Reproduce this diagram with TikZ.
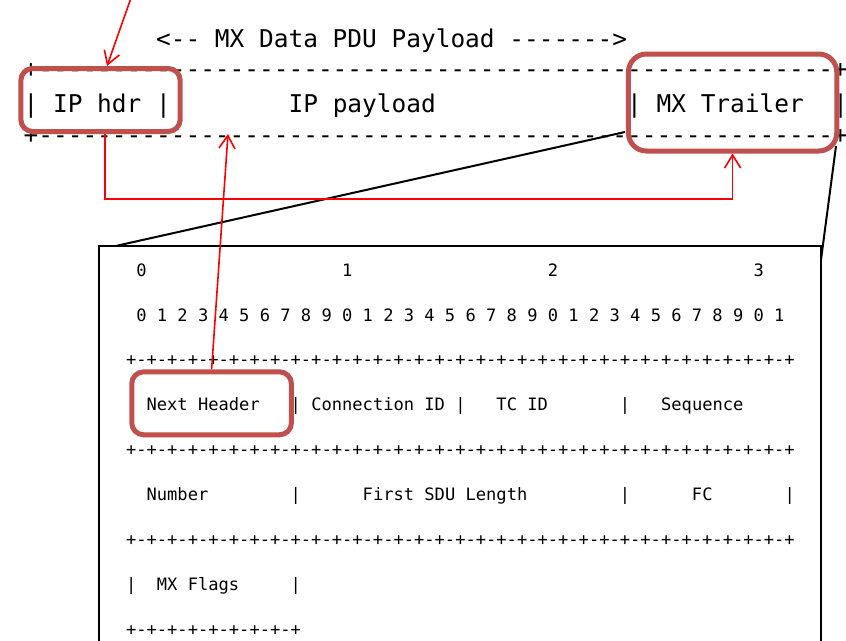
\documentclass[tikz,border=0pt]{standalone}
\usepackage{fontspec}
\setmonofont{DejaVu Sans Mono}
\usetikzlibrary{arrows.meta,calc}
\definecolor{boxred}{RGB}{192,80,77}
\begin{document}
\begin{tikzpicture}[x=1pt,y=-1pt,
  bigtxt/.style={font=\ttfamily\fontsize{24.45}{26}\selectfont, inner sep=0pt, outer sep=0pt, anchor=base west},
  smalltxt/.style={font=\ttfamily\fontsize{17.09}{18}\selectfont, inner sep=0pt, outer sep=0pt, anchor=base west},
  hlbox/.style={draw=boxred, line width=5pt, rounded corners=12pt, inner sep=0pt, outer sep=2.5pt},
  redarrow/.style={draw=red, line width=1.6pt, -{Straight Barb[length=13pt,width=16pt]}},
  zoomline/.style={draw=black, line width=2pt}]
\useasboundingbox (0,0) rectangle (846,640);
\fill[white] (0,0) rectangle (846,640);
\clip (0,0) rectangle (846,640);

% detail box and zoom lines
\node[draw, line width=2.2pt, minimum width=722pt, minimum height=440pt, anchor=north west, inner sep=0pt, outer sep=0pt] (detail) at (99,245.7) {};
\coordinate (zl) at (625,132);
\coordinate (zr) at (836,146);
\draw[zoomline] (zl) -- ([xshift=18pt]detail.north west);
\draw[zoomline] (zr) -- ([yshift=-14pt]detail.north east);

% top text
\node[bigtxt] (title) at (156.12,47) {<-- MX Data PDU Payload ------->};
\node[bigtxt] (topdash) at (23.64,77.7) {+\foreach \i in {1,...,54}{-}+};
\node[bigtxt] (bar1) at (23.64,112) {|};
\node[bigtxt] (iphdr) at (53.08,112) {IP hdr};
\node[bigtxt] (bar2) at (156.12,112) {|};
\node[bigtxt] (ippay) at (288.6,112) {IP payload};
\node[bigtxt] (bar3) at (627.16,112) {|};
\node[bigtxt] (mxtr) at (656.6,112) {MX Trailer};
\node[bigtxt] (bar4) at (833.24,112) {|};
\node[bigtxt] (botdash) at (23.64,143.7) {+\foreach \i in {1,...,54}{-}+};

% detail text
\node[smalltxt] (d0) at (136.34,276) {0};
\node[smalltxt] (d1) at (342.14,276) {1};
\node[smalltxt] (d2) at (547.94,276) {2};
\node[smalltxt] (d3) at (753.74,276) {3};
\node[smalltxt] (bits) at (136.34,321) {0 1 2 3 4 5 6 7 8 9 0 1 2 3 4 5 6 7 8 9 0 1 2 3 4 5 6 7 8 9 0 1};
\node[smalltxt] (sep1) at (126.05,365) {\foreach \i in {1,...,32}{+-}+};
\node[smalltxt] (nh) at (146.63,410) {Next Header};
\node[smalltxt] (b11) at (290.69,410) {|};
\node[smalltxt] (cid) at (311.27,410) {Connection ID};
\node[smalltxt] (b12) at (455.33,410) {|};
\node[smalltxt] (tcid) at (496.49,410) {TC ID};
\node[smalltxt] (b13) at (619.97,410) {|};
\node[smalltxt] (seq) at (661.13,410) {Sequence};
\node[smalltxt] (sep2) at (126.05,455) {\foreach \i in {1,...,32}{+-}+};
\node[smalltxt] (num) at (146.63,500) {Number};
\node[smalltxt] (b21) at (290.69,500) {|};
\node[smalltxt] (fsl) at (362.72,500) {First SDU Length};
\node[smalltxt] (b22) at (619.97,500) {|};
\node[smalltxt] (fc) at (691.99,500) {FC};
\node[smalltxt] (b23) at (784.61,500) {|};
\node[smalltxt] (sep3) at (126.05,545) {\foreach \i in {1,...,32}{+-}+};
\node[smalltxt] (b31) at (126.05,590) {|};
\node[smalltxt] (flags) at (156.92,590) {MX Flags};
\node[smalltxt] (b32) at (290.69,590) {|};
\node[smalltxt] (sep4) at (126.05,635) {\foreach \i in {1,...,8}{+-}+};

% highlight boxes
\node[hlbox, minimum width=159.4pt, minimum height=63pt] (ipbox) at (100.5,100) {};
\node[hlbox, minimum width=208.3pt, minimum height=97pt, rounded corners=18pt] (mxbox) at (732.6,102.5) {};
\node[hlbox, minimum width=159.7pt, minimum height=63pt] (nhbox) at (211.6,403.3) {};

% red arrows
\coordinate (a1start) at (131,-2);
\draw[redarrow] (a1start) -- ([xshift=6.5pt]ipbox.north);
\coordinate (bend) at (0,198.7);
\draw[redarrow] ([xshift=4.5pt]ipbox.south) |- (mxbox.south |- bend) -- (mxbox.south);
\coordinate (payloadpt) at (228,134);
\draw[redarrow] (nhbox.north) -- (payloadpt);
\end{tikzpicture}
\end{document}
